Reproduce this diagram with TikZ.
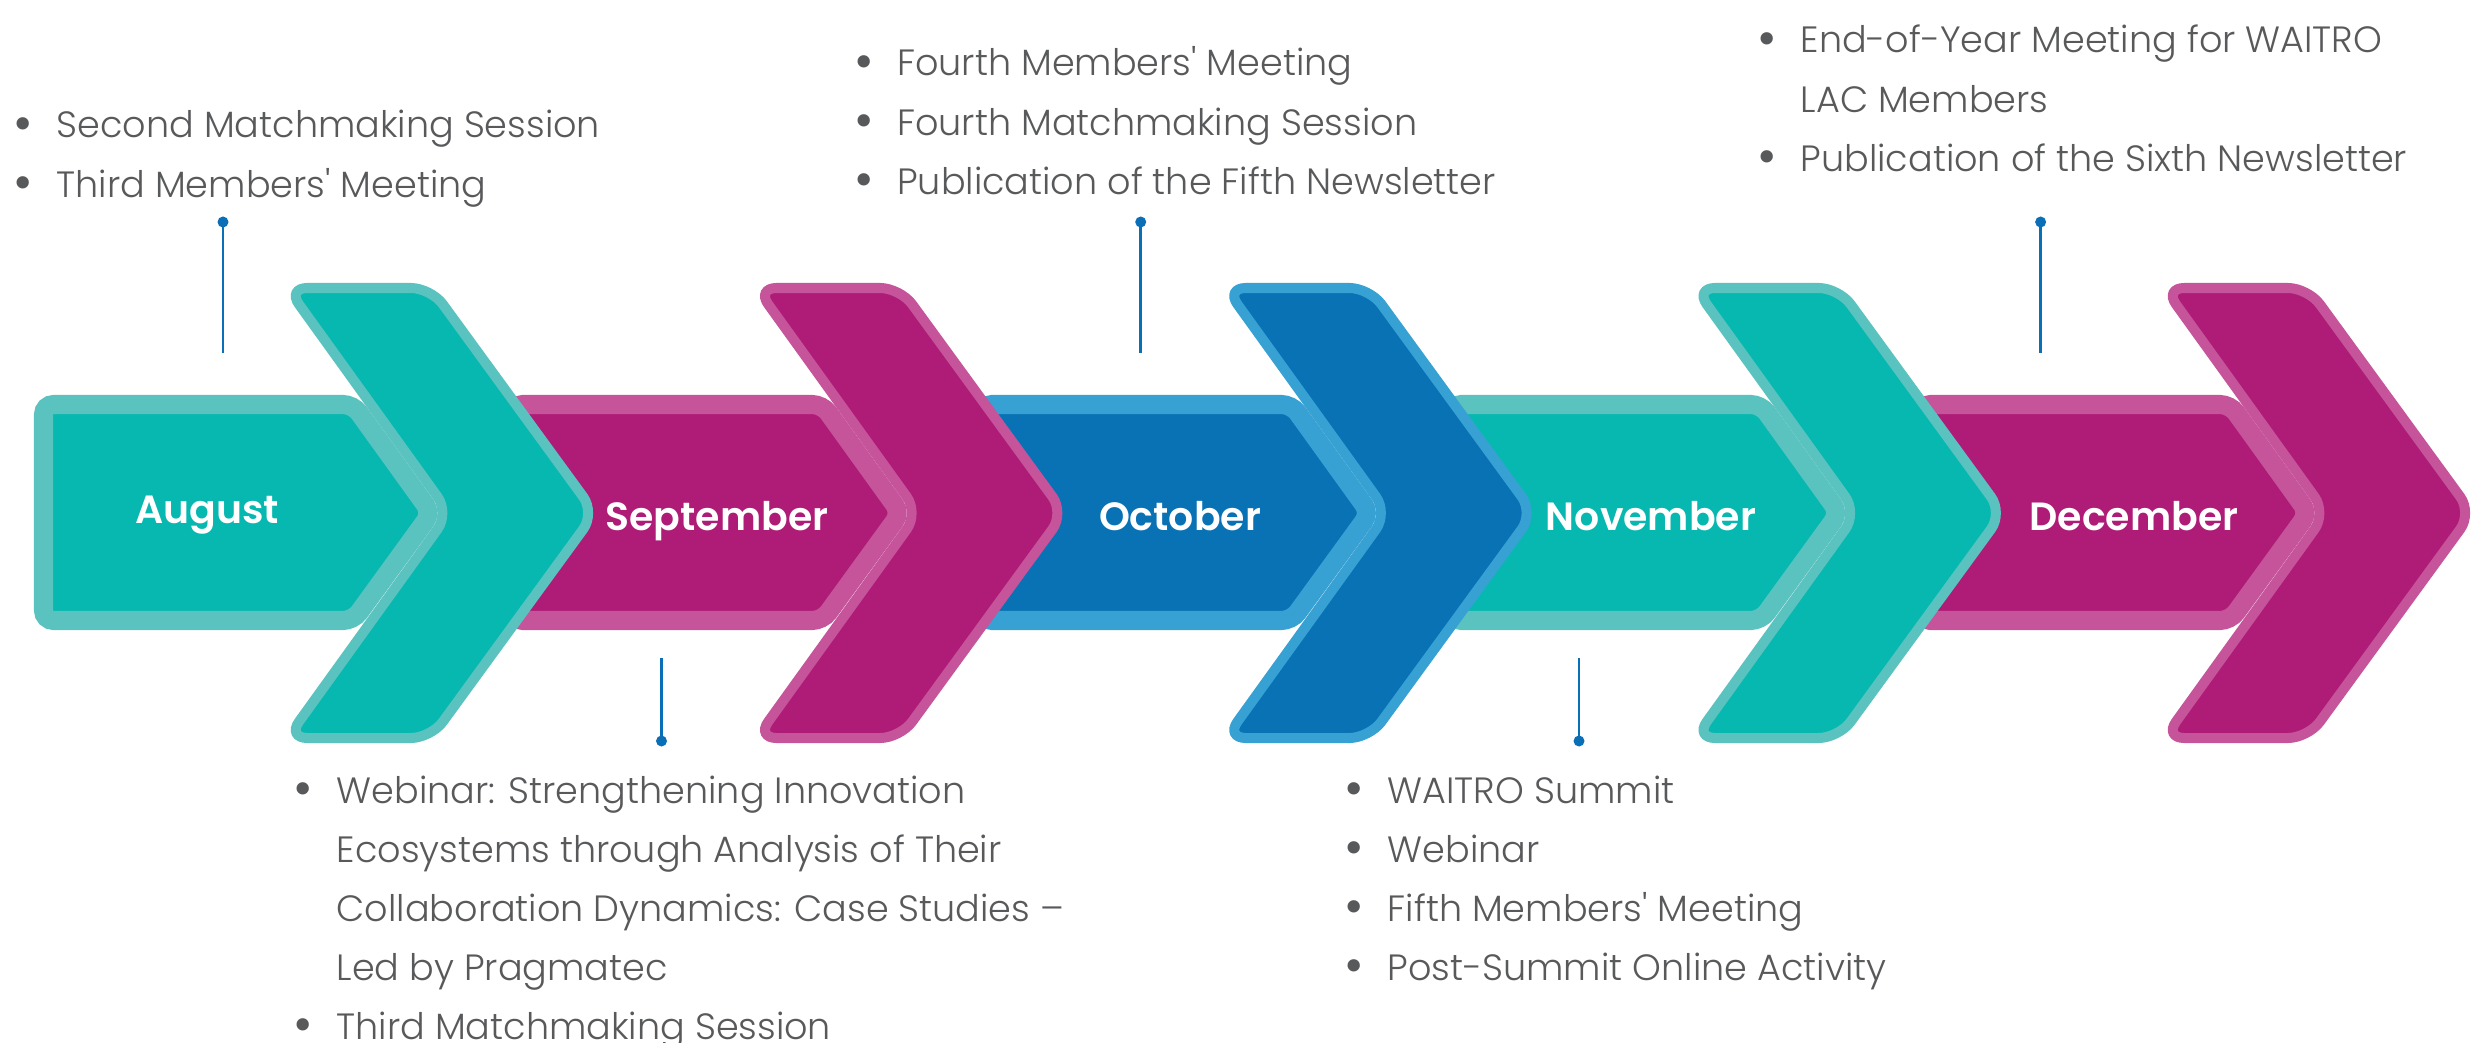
\documentclass[tikz,border=0pt]{standalone}
\usepackage{fontspec}
\setmainfont{Poppins Light}
\newfontfamily\listfont{Poppins Light}
\newfontfamily\monthfont{Poppins SemiBold}

\definecolor{tealdark}{HTML}{07B8B0}
\definecolor{teallight}{HTML}{5AC3BF}
\definecolor{magdark}{HTML}{AE1C77}
\definecolor{maglight}{HTML}{C6549B}
\definecolor{bluedark}{HTML}{0872B5}
\definecolor{bluelight}{HTML}{37A1D3}
\definecolor{connblue}{HTML}{0A6FB7}
\definecolor{textgrey}{HTML}{58595B}

\newcommand{\itm}{\makebox[0.43cm][l]{\raisebox{-0.9pt}{\scalebox{1.45}{•}}}}
\newcommand{\cnt}{\hspace*{0.43cm}}

\begin{document}
\begin{tikzpicture}[
    x=0.01cm, y=-0.01cm,
    body/.style={line width=1.9mm, rounded corners=1mm},
    chev/.style={line width=1mm, rounded corners=2mm},
    month/.style={text=white, inner sep=0pt, anchor=base,
        font=\monthfont\fontsize{11.2pt}{14pt}\selectfont},
    items/.style={text=textgrey, inner sep=0pt, anchor=base west,
        font=\listfont\fontsize{10.4pt}{16.8pt}\selectfont},
    conn/.style={draw=connblue, line width=0.28mm},
    dot/.style={circle, fill=connblue, inner sep=0pt, minimum size=1.1mm},
]
\useasboundingbox (0,0) rectangle (2486,1043);

% arrow bodies first, chevrons on top
\foreach \i/\dk/\lt in {0/tealdark/teallight, 1/magdark/maglight,
        2/bluedark/bluelight, 3/tealdark/teallight, 4/magdark/maglight}
    \filldraw[body, fill=\dk, draw=\lt, shift={({\i*469.25},0)}]
        (43.5,404.5) -- (353.2,404.5) -- (431.3,513) -- (353.2,620.5)
        -- (43.5,620.5) -- cycle;
\foreach \i/\dk/\lt in {0/tealdark/teallight, 1/magdark/maglight,
        2/bluedark/bluelight, 3/tealdark/teallight, 4/magdark/maglight}
    \filldraw[chev, fill=\dk, draw=\lt, shift={({\i*469.25},0)}]
        (287.2,288) -- (431,288) -- (595,513) -- (431,738)
        -- (287.2,738) -- (449.2,513) -- cycle;

% months
\node[month] (aug) at (207,523) {August};
\node[month] (sep) at (717,530) {September};
\node[month] (oct) at (1180,530) {October};
\node[month] (nov) at (1651,530) {November};
\node[month] (dec) at (2134,530) {December};

% event lists
\node[items] (augitems) at (13,138) {\begin{tabular}[t]{@{}l@{}}
    \itm Second Matchmaking Session\\
    \itm Third Members' Meeting
\end{tabular}};
\node[items] (sepitems) at (293,803) {\begin{tabular}[t]{@{}l@{}}
    \itm Webinar: Strengthening Innovation\\
    \cnt Ecosystems through Analysis of Their\\
    \cnt Collaboration Dynamics: Case Studies –\\
    \cnt Led by Pragmatec\\
    \itm Third Matchmaking Session
\end{tabular}};
\node[items] (octitems) at (853.5,76) {\begin{tabular}[t]{@{}l@{}}
    \itm Fourth Members' Meeting\\
    \itm Fourth Matchmaking Session\\
    \itm Publication of the Fifth Newsletter
\end{tabular}};
\node[items] (novitems) at (1344,803) {\begin{tabular}[t]{@{}l@{}}
    \itm WAITRO Summit\\
    \itm Webinar\\
    \itm Fifth Members' Meeting\\
    \itm Post-Summit Online Activity
\end{tabular}};
\node[items] (decitems) at (1757,53) {\begin{tabular}[t]{@{}l@{}}
    \itm End-of-Year Meeting for WAITRO\\
    \cnt LAC Members\\
    \itm Publication of the Sixth Newsletter
\end{tabular}};

% connectors
\node[dot] (augdot) at (223,222) {};
\coordinate (augend) at (223,353);
\draw[conn] (augdot.center) -- (augend);
\node[dot] (octdot) at (1140.7,222) {};
\coordinate (octend) at (1140.7,353);
\draw[conn] (octdot.center) -- (octend);
\node[dot] (decdot) at (2040.6,222) {};
\coordinate (decend) at (2040.6,353);
\draw[conn] (decdot.center) -- (decend);
\node[dot] (sepdot) at (661.5,741) {};
\coordinate (septop) at (661.5,658);
\draw[conn] (septop) -- (sepdot.center);
\node[dot] (novdot) at (1579,741) {};
\coordinate (novtop) at (1579,658);
\draw[conn] (novtop) -- (novdot.center);
\end{tikzpicture}
\end{document}
